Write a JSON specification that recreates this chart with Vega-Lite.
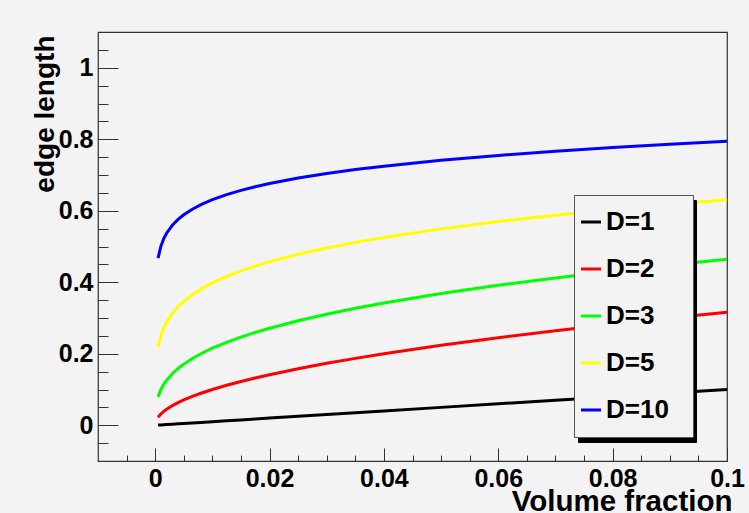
{
  "$schema": "https://vega.github.io/schema/vega-lite/v6.json",
  "width": 629,
  "height": 429,
  "autosize": {"type": "none"},
  "padding": {"left": 98, "top": 32, "right": 22, "bottom": 52},
  "background": "#f3f3f3",
  "config": {
    "view": {"stroke": "#333333", "strokeWidth": 1.2},
    "font": "Liberation Sans",
    "axis": {"domain": false, "grid": false, "tickColor": "#333333", "tickWidth": 1, "labelFont": "Liberation Sans", "labelFontWeight": "bold", "labelFontSize": 25, "labelColor": "#000000", "titleFont": "Liberation Sans", "titleFontWeight": "bold", "titleColor": "#000000"}
  },
  "data": {"values": [
    {"f": 0.0005, "len": 0.0005, "D": "D=1"},
    {"f": 0.001, "len": 0.001, "D": "D=1"},
    {"f": 0.0015, "len": 0.0015, "D": "D=1"},
    {"f": 0.002, "len": 0.002, "D": "D=1"},
    {"f": 0.003, "len": 0.003, "D": "D=1"},
    {"f": 0.004, "len": 0.004, "D": "D=1"},
    {"f": 0.005, "len": 0.005, "D": "D=1"},
    {"f": 0.0065, "len": 0.0065, "D": "D=1"},
    {"f": 0.008, "len": 0.008, "D": "D=1"},
    {"f": 0.01, "len": 0.01, "D": "D=1"},
    {"f": 0.0125, "len": 0.0125, "D": "D=1"},
    {"f": 0.015, "len": 0.015, "D": "D=1"},
    {"f": 0.0175, "len": 0.0175, "D": "D=1"},
    {"f": 0.02, "len": 0.02, "D": "D=1"},
    {"f": 0.025, "len": 0.025, "D": "D=1"},
    {"f": 0.03, "len": 0.03, "D": "D=1"},
    {"f": 0.035, "len": 0.035, "D": "D=1"},
    {"f": 0.04, "len": 0.04, "D": "D=1"},
    {"f": 0.05, "len": 0.05, "D": "D=1"},
    {"f": 0.06, "len": 0.06, "D": "D=1"},
    {"f": 0.07, "len": 0.07, "D": "D=1"},
    {"f": 0.08, "len": 0.08, "D": "D=1"},
    {"f": 0.09, "len": 0.09, "D": "D=1"},
    {"f": 0.1, "len": 0.1, "D": "D=1"},
    {"f": 0.0005, "len": 0.02236, "D": "D=2"},
    {"f": 0.001, "len": 0.03162, "D": "D=2"},
    {"f": 0.0015, "len": 0.03873, "D": "D=2"},
    {"f": 0.002, "len": 0.04472, "D": "D=2"},
    {"f": 0.003, "len": 0.05477, "D": "D=2"},
    {"f": 0.004, "len": 0.06325, "D": "D=2"},
    {"f": 0.005, "len": 0.07071, "D": "D=2"},
    {"f": 0.0065, "len": 0.08062, "D": "D=2"},
    {"f": 0.008, "len": 0.08944, "D": "D=2"},
    {"f": 0.01, "len": 0.1, "D": "D=2"},
    {"f": 0.0125, "len": 0.1118, "D": "D=2"},
    {"f": 0.015, "len": 0.12247, "D": "D=2"},
    {"f": 0.0175, "len": 0.13229, "D": "D=2"},
    {"f": 0.02, "len": 0.14142, "D": "D=2"},
    {"f": 0.025, "len": 0.15811, "D": "D=2"},
    {"f": 0.03, "len": 0.17321, "D": "D=2"},
    {"f": 0.035, "len": 0.18708, "D": "D=2"},
    {"f": 0.04, "len": 0.2, "D": "D=2"},
    {"f": 0.05, "len": 0.22361, "D": "D=2"},
    {"f": 0.06, "len": 0.24495, "D": "D=2"},
    {"f": 0.07, "len": 0.26458, "D": "D=2"},
    {"f": 0.08, "len": 0.28284, "D": "D=2"},
    {"f": 0.09, "len": 0.3, "D": "D=2"},
    {"f": 0.1, "len": 0.31623, "D": "D=2"},
    {"f": 0.0005, "len": 0.07937, "D": "D=3"},
    {"f": 0.001, "len": 0.1, "D": "D=3"},
    {"f": 0.0015, "len": 0.11447, "D": "D=3"},
    {"f": 0.002, "len": 0.12599, "D": "D=3"},
    {"f": 0.003, "len": 0.14422, "D": "D=3"},
    {"f": 0.004, "len": 0.15874, "D": "D=3"},
    {"f": 0.005, "len": 0.171, "D": "D=3"},
    {"f": 0.0065, "len": 0.18663, "D": "D=3"},
    {"f": 0.008, "len": 0.2, "D": "D=3"},
    {"f": 0.01, "len": 0.21544, "D": "D=3"},
    {"f": 0.0125, "len": 0.23208, "D": "D=3"},
    {"f": 0.015, "len": 0.24662, "D": "D=3"},
    {"f": 0.0175, "len": 0.25962, "D": "D=3"},
    {"f": 0.02, "len": 0.27144, "D": "D=3"},
    {"f": 0.025, "len": 0.2924, "D": "D=3"},
    {"f": 0.03, "len": 0.31072, "D": "D=3"},
    {"f": 0.035, "len": 0.32711, "D": "D=3"},
    {"f": 0.04, "len": 0.342, "D": "D=3"},
    {"f": 0.05, "len": 0.3684, "D": "D=3"},
    {"f": 0.06, "len": 0.39149, "D": "D=3"},
    {"f": 0.07, "len": 0.41213, "D": "D=3"},
    {"f": 0.08, "len": 0.43089, "D": "D=3"},
    {"f": 0.09, "len": 0.44814, "D": "D=3"},
    {"f": 0.1, "len": 0.46416, "D": "D=3"},
    {"f": 0.0005, "len": 0.21867, "D": "D=5"},
    {"f": 0.001, "len": 0.25119, "D": "D=5"},
    {"f": 0.0015, "len": 0.27241, "D": "D=5"},
    {"f": 0.002, "len": 0.28854, "D": "D=5"},
    {"f": 0.003, "len": 0.31292, "D": "D=5"},
    {"f": 0.004, "len": 0.33144, "D": "D=5"},
    {"f": 0.005, "len": 0.34657, "D": "D=5"},
    {"f": 0.0065, "len": 0.36524, "D": "D=5"},
    {"f": 0.008, "len": 0.38073, "D": "D=5"},
    {"f": 0.01, "len": 0.39811, "D": "D=5"},
    {"f": 0.0125, "len": 0.41628, "D": "D=5"},
    {"f": 0.015, "len": 0.43173, "D": "D=5"},
    {"f": 0.0175, "len": 0.44525, "D": "D=5"},
    {"f": 0.02, "len": 0.45731, "D": "D=5"},
    {"f": 0.025, "len": 0.47818, "D": "D=5"},
    {"f": 0.03, "len": 0.49593, "D": "D=5"},
    {"f": 0.035, "len": 0.51147, "D": "D=5"},
    {"f": 0.04, "len": 0.52531, "D": "D=5"},
    {"f": 0.05, "len": 0.54928, "D": "D=5"},
    {"f": 0.06, "len": 0.56968, "D": "D=5"},
    {"f": 0.07, "len": 0.58751, "D": "D=5"},
    {"f": 0.08, "len": 0.60342, "D": "D=5"},
    {"f": 0.09, "len": 0.61781, "D": "D=5"},
    {"f": 0.1, "len": 0.63096, "D": "D=5"},
    {"f": 0.0005, "len": 0.46762, "D": "D=10"},
    {"f": 0.001, "len": 0.50119, "D": "D=10"},
    {"f": 0.0015, "len": 0.52193, "D": "D=10"},
    {"f": 0.002, "len": 0.53716, "D": "D=10"},
    {"f": 0.003, "len": 0.55939, "D": "D=10"},
    {"f": 0.004, "len": 0.57571, "D": "D=10"},
    {"f": 0.005, "len": 0.5887, "D": "D=10"},
    {"f": 0.0065, "len": 0.60435, "D": "D=10"},
    {"f": 0.008, "len": 0.61703, "D": "D=10"},
    {"f": 0.01, "len": 0.63096, "D": "D=10"},
    {"f": 0.0125, "len": 0.6452, "D": "D=10"},
    {"f": 0.015, "len": 0.65706, "D": "D=10"},
    {"f": 0.0175, "len": 0.66727, "D": "D=10"},
    {"f": 0.02, "len": 0.67625, "D": "D=10"},
    {"f": 0.025, "len": 0.69151, "D": "D=10"},
    {"f": 0.03, "len": 0.70422, "D": "D=10"},
    {"f": 0.035, "len": 0.71517, "D": "D=10"},
    {"f": 0.04, "len": 0.72478, "D": "D=10"},
    {"f": 0.05, "len": 0.74114, "D": "D=10"},
    {"f": 0.06, "len": 0.75477, "D": "D=10"},
    {"f": 0.07, "len": 0.76649, "D": "D=10"},
    {"f": 0.08, "len": 0.7768, "D": "D=10"},
    {"f": 0.09, "len": 0.78601, "D": "D=10"},
    {"f": 0.1, "len": 0.79433, "D": "D=10"}
  ]},
  "resolve": {"axis": {"x": "independent", "y": "independent"}},
  "layer": [
    {
      "mark": {"type": "line", "opacity": 0},
      "encoding": {
        "x": {"field": "f", "type": "quantitative", "scale": {"domain": [-0.01, 0.1], "nice": false, "zero": false},
          "axis": {"orient": "bottom", "labels": false, "ticks": true, "tickSize": -6, "title": null,
            "values": [-0.005, 0.005, 0.01, 0.015, 0.025, 0.03, 0.035, 0.045, 0.05, 0.055, 0.065, 0.07, 0.075, 0.085, 0.09, 0.095]}},
        "y": {"field": "len", "type": "quantitative", "scale": {"domain": [-0.1, 1.1], "nice": false, "zero": false},
          "axis": {"orient": "left", "labels": false, "ticks": true, "tickSize": -10, "title": null,
            "values": [-0.05, 0.05, 0.1, 0.15, 0.25, 0.3, 0.35, 0.45, 0.5, 0.55, 0.65, 0.7, 0.75, 0.85, 0.9, 0.95, 1.05]}},
        "color": {"field": "D", "type": "nominal",
          "scale": {"domain": ["d1", "d2", "d3", "d5", "d10"], "range": ["#000000", "#000000", "#000000", "#000000", "#000000"]},
          "legend": {"orient": "none", "legendX": 480, "legendY": 168, "title": ".", "titleOrient": "right", "titleAnchor": "end", "titleFontSize": 10, "titlePadding": 68, "titleColor": "#000000", "padding": 14,
            "fillColor": "#000000", "strokeColor": "#000000", "labelFont": "Liberation Sans", "labelFontSize": 26, "labelFontWeight": "bold", "labelExpr": "''",
            "symbolType": "stroke", "symbolSize": 400, "symbolStrokeWidth": 3, "symbolStrokeColor": "#000000", "rowPadding": 21, "symbolOffset": -10, "labelOffset": 2}}
      }
    },
    {
      "mark": {"type": "line", "opacity": 0},
      "encoding": {
        "x": {"field": "f", "type": "quantitative",
          "axis": {"orient": "bottom", "labels": false, "ticks": true, "tickSize": -13, "title": null,
            "values": [0, 0.02, 0.04, 0.06, 0.08, 0.1]}},
        "y": {"field": "len", "type": "quantitative",
          "axis": {"orient": "left", "labels": false, "ticks": true, "tickSize": -20, "title": null,
            "values": [0, 0.2, 0.4, 0.6, 0.8, 1]}},
        "detail": {"field": "D"}
      }
    },
    {
      "mark": {"type": "line", "strokeWidth": 3},
      "encoding": {
        "x": {"field": "f", "type": "quantitative",
          "axis": {"orient": "bottom", "ticks": false, "labelPadding": 5, "labelFlush": false, "format": "~g",
            "values": [0, 0.02, 0.04, 0.06, 0.08, 0.1],
            "title": "Volume fraction", "titleFontSize": 29.5, "titleX": 634, "titleY": 49, "titleAlign": "right", "titleBaseline": "alphabetic", "titleAnchor": null}},
        "y": {"field": "len", "type": "quantitative",
          "axis": {"orient": "left", "ticks": false, "labelPadding": 5, "labelFlush": false, "format": "~g",
            "values": [0, 0.2, 0.4, 0.6, 0.8, 1],
            "title": "edge length", "titleFontSize": 28, "titleAngle": -90, "titleX": -45, "titleY": 3, "titleAlign": "right", "titleBaseline": "alphabetic", "titleAnchor": null}},
        "stroke": {"field": "D", "type": "nominal",
          "scale": {"domain": ["D=1", "D=2", "D=3", "D=5", "D=10"], "range": ["#000000", "#ff0000", "#00ff00", "#ffff00", "#0000ff"]},
          "legend": {"orient": "none", "legendX": 476, "legendY": 163, "title": ".", "titleOrient": "right", "titleFontSize": 10, "titlePadding": 7, "titleColor": "#f3f3f3", "padding": 14,
            "fillColor": "#f3f3f3", "strokeColor": "#555555", "labelFont": "Liberation Sans", "labelFontSize": 26, "labelFontWeight": "bold", "labelColor": "#000000",
            "symbolType": "stroke", "symbolSize": 400, "symbolStrokeWidth": 3, "rowPadding": 21, "symbolOffset": -10, "labelOffset": 2}}
      }
    }
  ]
}
